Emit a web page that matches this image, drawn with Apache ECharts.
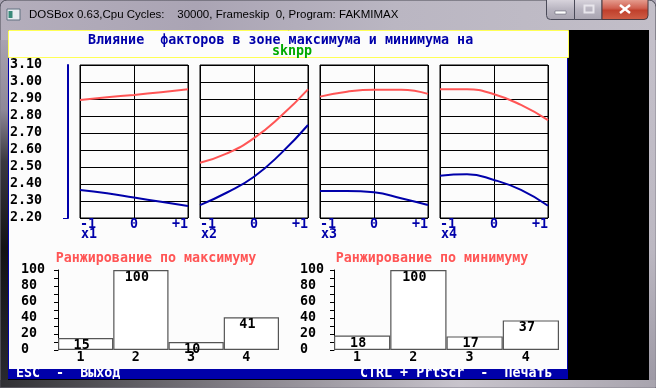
<!DOCTYPE html>
<html>
<head>
<meta charset="utf-8">
<script src="https://cdn.jsdelivr.net/npm/echarts@6/dist/echarts.min.js"></script>
<style>
html,body{margin:0;padding:0;background:#a9a3b2;}
#c{width:656px;height:388px;}
</style>
</head>
<body>
<div id="c"></div>
<script>
// ---- data ----
const windowTitle = 'DOSBox 0.63,Cpu Cycles:    30000, Frameskip  0, Program: FAKMIMAX';
const mainTitle = 'Влияние  факторов в зоне максимума и минимума на';
const subTitle = 'sknpp';
const factorNames = ['x1', 'x2', 'x3', 'x4'];
const lineX = [-1, -0.5, 0, 0.5, 1];
const xTickLabels = { '-1': '-1', '0': '0', '1': '+1' };
const yMin = 2.2, yMax = 3.1, yStep = 0.1;
// response at maximum zone (red) per factor
const maxX1 = [2.894, 2.910, 2.924, 2.940, 2.957];
const maxX2 = [2.525, 2.580, 2.670, 2.800, 2.957];
const maxX3 = [2.914, 2.943, 2.955, 2.955, 2.930];
const maxX4 = [2.957, 2.957, 2.928, 2.865, 2.776];
// response at minimum zone (blue) per factor
const minX1 = [2.365, 2.345, 2.320, 2.295, 2.270];
const minX2 = [2.276, 2.350, 2.443, 2.580, 2.747];
const minX3 = [2.359, 2.359, 2.351, 2.316, 2.276];
const minX4 = [2.449, 2.457, 2.424, 2.365, 2.272];
const maxCurves = [maxX1, maxX2, maxX3, maxX4];
const minCurves = [minX1, minX2, minX3, minX4];
// ranking bars
const rankCategories = ['1', '2', '3', '4'];
const rankMaxTitle = 'Ранжирование по максимуму';
const rankMinTitle = 'Ранжирование по минимуму';
const rankMax = [15, 100, 10, 41];
const rankMin = [18, 100, 17, 37];
const footLeft = 'ESC  -  Выход';
const footRight = 'CTRL + PrtScr  -  Печать';

// ---- styles ----
const RED = '#ff5555', NAVY = '#0000aa', GREEN = '#00aa00';
const MONO = '"DejaVu Sans Mono", "Liberation Mono", monospace';
const FS = 13.33;
const monoFont = 'bold ' + FS + 'px ' + MONO;

const chart = echarts.init(document.getElementById('c'), null, { renderer: 'canvas' });

const grids = [], xAxes = [], yAxes = [], series = [];
for (let i = 0; i < 4; i++) {
  grids.push({ left: 80 + 120 * i, top: 65, width: 108, height: 153, show: true,
    borderColor: '#000', borderWidth: 1, backgroundColor: 'transparent', containLabel: false });
  xAxes.push({ gridIndex: i, type: 'value', min: -1, max: 1, interval: 1,
    axisLine: { show: false, onZero: false }, axisTick: { show: false },
    splitLine: { show: true, lineStyle: { color: '#000', width: 1 } },
    axisLabel: { color: NAVY, fontFamily: MONO, fontSize: FS, fontWeight: 'bold', margin: 0,
      alignMinLabel: 'left', alignMaxLabel: 'right',
      formatter: v => xTickLabels[String(Math.round(v))] } });
  const first = i === 0;
  yAxes.push({ gridIndex: i, type: 'value', min: yMin, max: yMax, interval: yStep,
    offset: first ? 12 : 0,
    axisLine: { show: first, onZero: false, lineStyle: { color: NAVY, width: 2 } },
    axisTick: { show: false },
    splitLine: { show: true, lineStyle: { color: '#000', width: 1 } },
    axisLabel: { show: first, color: '#000', fontFamily: MONO, fontSize: FS, fontWeight: 'bold',
      align: 'left', margin: 58, formatter: v => v.toFixed(2) } });
  series.push({ type: 'line', xAxisIndex: i, yAxisIndex: i, smooth: true, showSymbol: false,
    lineStyle: { color: RED, width: 2 }, data: lineX.map((x, j) => [x, maxCurves[i][j]]) });
  series.push({ type: 'line', xAxisIndex: i, yAxisIndex: i, smooth: true, showSymbol: false,
    lineStyle: { color: NAVY, width: 2 }, data: lineX.map((x, j) => [x, minCurves[i][j]]) });
}

const barDefs = [
  { left: 58, width: 221, data: rankMax, margin: 37 },
  { left: 334, width: 225, data: rankMin, margin: 34 }
];
barDefs.forEach((b, k) => {
  const gi = 4 + k;
  grids.push({ left: b.left, top: 270, width: b.width, height: 80 });
  xAxes.push({ gridIndex: gi, type: 'category', data: rankCategories,
    axisLine: { show: false }, axisTick: { show: false },
    axisLabel: { color: '#000', fontFamily: MONO, fontSize: FS, fontWeight: 'bold', margin: 1,
      padding: [0, 10, 0, 0] } });
  yAxes.push({ gridIndex: gi, type: 'value', min: 0, max: 100, interval: 20,
    axisLine: { show: true, onZero: false, lineStyle: { color: '#000', width: 1 } },
    axisTick: { show: true, length: 4, lineStyle: { color: '#000' } },
    minorTick: { show: true, splitNumber: 2, length: 4, lineStyle: { color: '#000' } },
    splitLine: { show: false },
    axisLabel: { color: '#000', fontFamily: MONO, fontSize: FS, fontWeight: 'bold',
      align: 'left', margin: b.margin } });
  series.push({ type: 'bar', xAxisIndex: gi, yAxisIndex: gi, data: b.data,
    barCategoryGap: '0%',
    itemStyle: { color: '#ffffff', borderColor: '#555555', borderWidth: 1.2 },
    label: { show: true, position: 'insideTop', distance: 1, offset: [-4, 0], color: '#000',
      fontFamily: MONO, fontSize: FS, fontWeight: 'bold' } });
});

function txt(text, x, y, font, fill, align, extra) {
  return { type: 'text', z: 20, style: Object.assign({ text: text, x: x, y: y, font: font, fill: fill,
    textAlign: align || 'left', textVerticalAlign: 'middle' }, extra || {}) };
}

const graphic = [
  // window frame
  { type: 'rect', z: -30, shape: { x: 0, y: 0, width: 656, height: 388, r: [7, 7, 0, 0] },
    style: { fill: { type: 'linear', x: 0, y: 0, x2: 1, y2: 0, colorStops: [
      { offset: 0, color: '#b4aebc' }, { offset: 0.3, color: '#aaa4b4' }, { offset: 0.6, color: '#bab6c2' }, { offset: 1, color: '#c2bec8' }] },
      stroke: '#4a4a55', lineWidth: 1 } },
  { type: 'rect', z: -29, shape: { x: 0.5, y: 40, width: 7.5, height: 347 },
    style: { fill: { type: 'linear', x: 0, y: 0, x2: 0, y2: 1, colorStops: [
      { offset: 0, color: '#a8a2b0' }, { offset: 0.2, color: '#8e8898' }, { offset: 0.35, color: '#3a3840' }, { offset: 0.6, color: '#121214' }, { offset: 1, color: '#2a2a30' }] } } },
  { type: 'rect', z: -29, shape: { x: 648, y: 40, width: 7.5, height: 347 },
    style: { fill: { type: 'linear', x: 0, y: 0, x2: 0, y2: 1, colorStops: [
      { offset: 0, color: '#c4c0ca' }, { offset: 0.6, color: '#bcb8c2' }, { offset: 1, color: '#9c98a4' }] } } },
  { type: 'rect', z: -29, shape: { x: 0.5, y: 380, width: 655, height: 7.5 },
    style: { fill: { type: 'linear', x: 0, y: 0, x2: 1, y2: 0, colorStops: [
      { offset: 0, color: '#303034' }, { offset: 0.4, color: '#8c8890' }, { offset: 0.7, color: '#c8c4cc' }, { offset: 1, color: '#a8a4ae' }] } } },
  // icon
  { type: 'rect', z: -20, shape: { x: 7, y: 9, width: 13, height: 11 },
    style: { fill: '#e8ecf0', stroke: '#607080', lineWidth: 1 } },
  { type: 'rect', z: -19, shape: { x: 8.5, y: 11, width: 4, height: 7 }, style: { fill: '#3a8a7a' } },
  txt(windowTitle, 29, 15, '11.5px "Liberation Sans", Arial, sans-serif', '#000', 'left',
    { shadowColor: 'rgba(255,255,255,0.9)', shadowBlur: 8 }),
  // caption buttons
  { type: 'rect', z: -20, shape: { x: 546.5, y: -1, width: 28, height: 20.5, r: [0, 0, 0, 4] },
    style: { fill: { type: 'linear', x: 0, y: 0, x2: 0, y2: 1, colorStops: [
      { offset: 0, color: '#dcd8e0' }, { offset: 0.5, color: '#b8b4c0' }, { offset: 1, color: '#a8a4b0' }] }, stroke: '#4a4a58', lineWidth: 1 } },
  { type: 'rect', z: -20, shape: { x: 574.5, y: -1, width: 27.5, height: 20.5 },
    style: { fill: { type: 'linear', x: 0, y: 0, x2: 0, y2: 1, colorStops: [
      { offset: 0, color: '#dcd8e0' }, { offset: 0.5, color: '#b8b4c0' }, { offset: 1, color: '#a8a4b0' }] }, stroke: '#4a4a58', lineWidth: 1 } },
  { type: 'rect', z: -20, shape: { x: 602, y: -1, width: 46, height: 20.5, r: [0, 0, 4, 0] },
    style: { fill: { type: 'linear', x: 0, y: 0, x2: 0, y2: 1, colorStops: [
      { offset: 0, color: '#e8a698' }, { offset: 0.45, color: '#d06050' }, { offset: 0.55, color: '#c0402c' }, { offset: 1, color: '#d06048' }] }, stroke: '#4a3a40', lineWidth: 1 } },
  { type: 'rect', z: -19, shape: { x: 555, y: 11, width: 11, height: 3 }, style: { fill: '#ffffff', stroke: '#505060', lineWidth: 0.5 } },
  { type: 'rect', z: -19, shape: { x: 584.5, y: 5.5, width: 9, height: 7 }, style: { fill: 'none', stroke: '#e8e6ec', lineWidth: 2 } },
  { type: 'line', z: -19, shape: { x1: 620, y1: 5, x2: 630, y2: 13 }, style: { stroke: '#ffffff', lineWidth: 2.5 } },
  { type: 'line', z: -19, shape: { x1: 630, y1: 5, x2: 620, y2: 13 }, style: { stroke: '#ffffff', lineWidth: 2.5 } },
  // DOS screen
  { type: 'rect', z: -20, shape: { x: 8, y: 30, width: 641, height: 350 }, style: { fill: '#000' } },
  { type: 'rect', z: -19, shape: { x: 8.5, y: 30.5, width: 560, height: 27 },
    style: { fill: '#fcfcfc', stroke: '#ffff55', lineWidth: 1 } },
  { type: 'rect', z: -19, shape: { x: 8, y: 58, width: 560, height: 311 }, style: { fill: '#fcfcfc' } },
  { type: 'line', z: -18, shape: { x1: 8.5, y1: 58, x2: 8.5, y2: 369 }, style: { stroke: NAVY, lineWidth: 1 } },
  { type: 'line', z: -18, shape: { x1: 567.5, y1: 58, x2: 567.5, y2: 369 }, style: { stroke: NAVY, lineWidth: 1 } },
  { type: 'rect', z: -19, shape: { x: 8, y: 369, width: 560, height: 10 }, style: { fill: NAVY } },
  txt(mainTitle, 88, 41, monoFont, NAVY),
  txt(subTitle, 272, 52, monoFont, GREEN),
  txt(rankMaxTitle, 156, 259, monoFont, RED, 'center'),
  txt(rankMinTitle, 432, 259, monoFont, RED, 'center'),
  txt(footLeft, 16, 374, monoFont, '#ffffff'),
  txt(footRight, 360, 374, monoFont, '#ffffff'),
  { type: 'line', z: 20, shape: { x1: 63, y1: 218.5, x2: 68, y2: 218.5 }, style: { stroke: NAVY, lineWidth: 1 } }
];
factorNames.forEach((n, i) => graphic.push(txt(n, 81 + 120 * i, 235, monoFont, NAVY)));

chart.setOption({
  animation: false,
  backgroundColor: 'transparent',
  grid: grids, xAxis: xAxes, yAxis: yAxes, series: series,
  graphic: { elements: graphic }
});
</script>
</body>
</html>
